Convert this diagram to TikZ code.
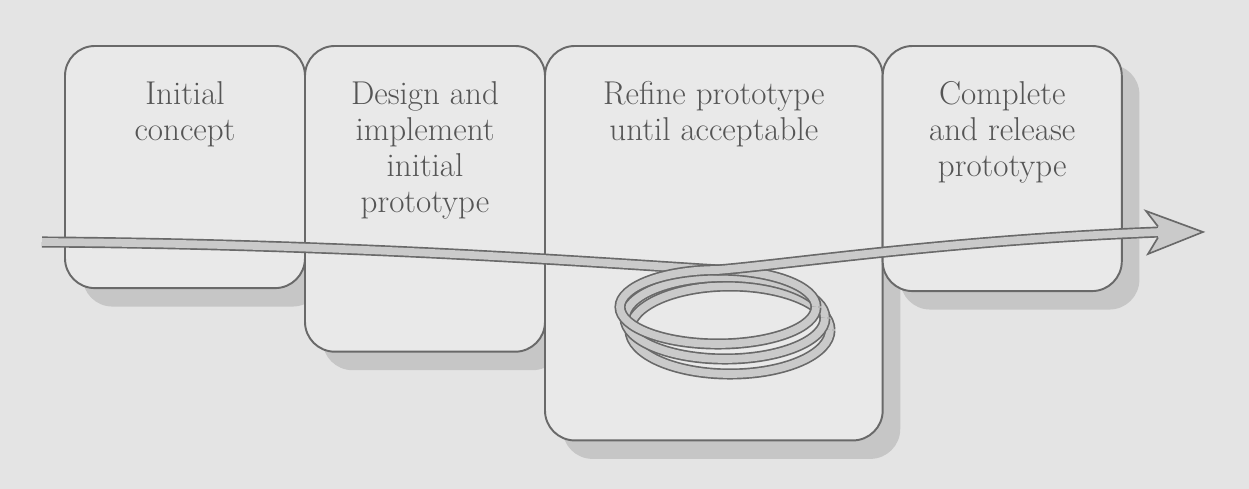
\documentclass[tikz,border=0pt]{standalone}
\usepackage{tikz}
\usetikzlibrary{positioning,shadows}
\definecolor{paper}{RGB}{228,228,228}
\definecolor{boxfill}{RGB}{233,233,233}
\definecolor{edgegray}{RGB}{105,105,105}
\definecolor{shadowgray}{RGB}{198,198,198}
\definecolor{bandgray}{RGB}{202,202,202}
\definecolor{textgray}{RGB}{85,85,85}

\begin{document}
\begin{tikzpicture}[x=0.02cm,y=-0.02cm,
    stage/.style={draw=edgegray,line width=1.1pt,fill=boxfill,rounded corners=17pt,
      anchor=north west,inner sep=0pt,outer sep=0pt,
      drop shadow={shadow xshift=10pt,shadow yshift=-10.5pt,fill=shadowgray,opacity=1}},
    stagetext/.style={anchor=north,yshift=-20pt,align=center,inner sep=0pt,
      text=textgray,font=\fontsize{18.8}{20.6}\selectfont},
    band/.style={draw=edgegray,line width=0.95pt,double=bandgray,double distance=4.4pt}]

  \fill[paper] (0,0) rectangle (1249,489);
  \useasboundingbox (0,0) rectangle (1249,489);

  % the four stages
  \node[stage,minimum width=136.6pt,minimum height=137.8pt,
        label={[stagetext]north:{Initial\\concept}}] (init) at (65,46) {};
  \node[stage,minimum width=136.6pt,minimum height=174pt,
        label={[stagetext]north:{Design and\\implement\\initial\\prototype}}] (design) at (init.north east) {};
  \node[stage,minimum width=192.2pt,minimum height=224.5pt,
        label={[stagetext]north:{Refine prototype\\until acceptable}}] (refine) at (design.north east) {};
  \node[stage,minimum width=136.1pt,minimum height=139.5pt,
        label={[stagetext]north:{Complete\\and release\\prototype}}] (release) at (refine.north east) {};

  \coordinate (start) at (42,242);
  \coordinate (top) at (718,270);
  \coordinate (neck) at (1160,232);
  \coordinate (tip) at (1203,232);

  % coil: back halves first
  \draw[band] (630,330) arc[start angle=180,end angle=360,x radius=100,y radius=44];
  \draw[band] (625,318) arc[start angle=180,end angle=360,x radius=100,y radius=41];
  \draw[band] (start) .. controls (350,244) and (590,262) .. (top)
    arc[start angle=270,end angle=360,x radius=98,y radius=37];
  % front halves
  \draw[band] (830,330) arc[start angle=0,end angle=180,x radius=100,y radius=44];
  \draw[band] (825,318) arc[start angle=0,end angle=180,x radius=100,y radius=41];
  \draw[band] (816,307) arc[start angle=0,end angle=270,x radius=98,y radius=37]
    .. controls (790,264) and (950,240) .. (neck);
  \filldraw[draw=edgegray,fill=bandgray,line width=0.95pt]
    (1158,226.5) -- (1146,211) -- (tip) -- (1148,254) -- (1158,237.5);
\end{tikzpicture}
\end{document}
